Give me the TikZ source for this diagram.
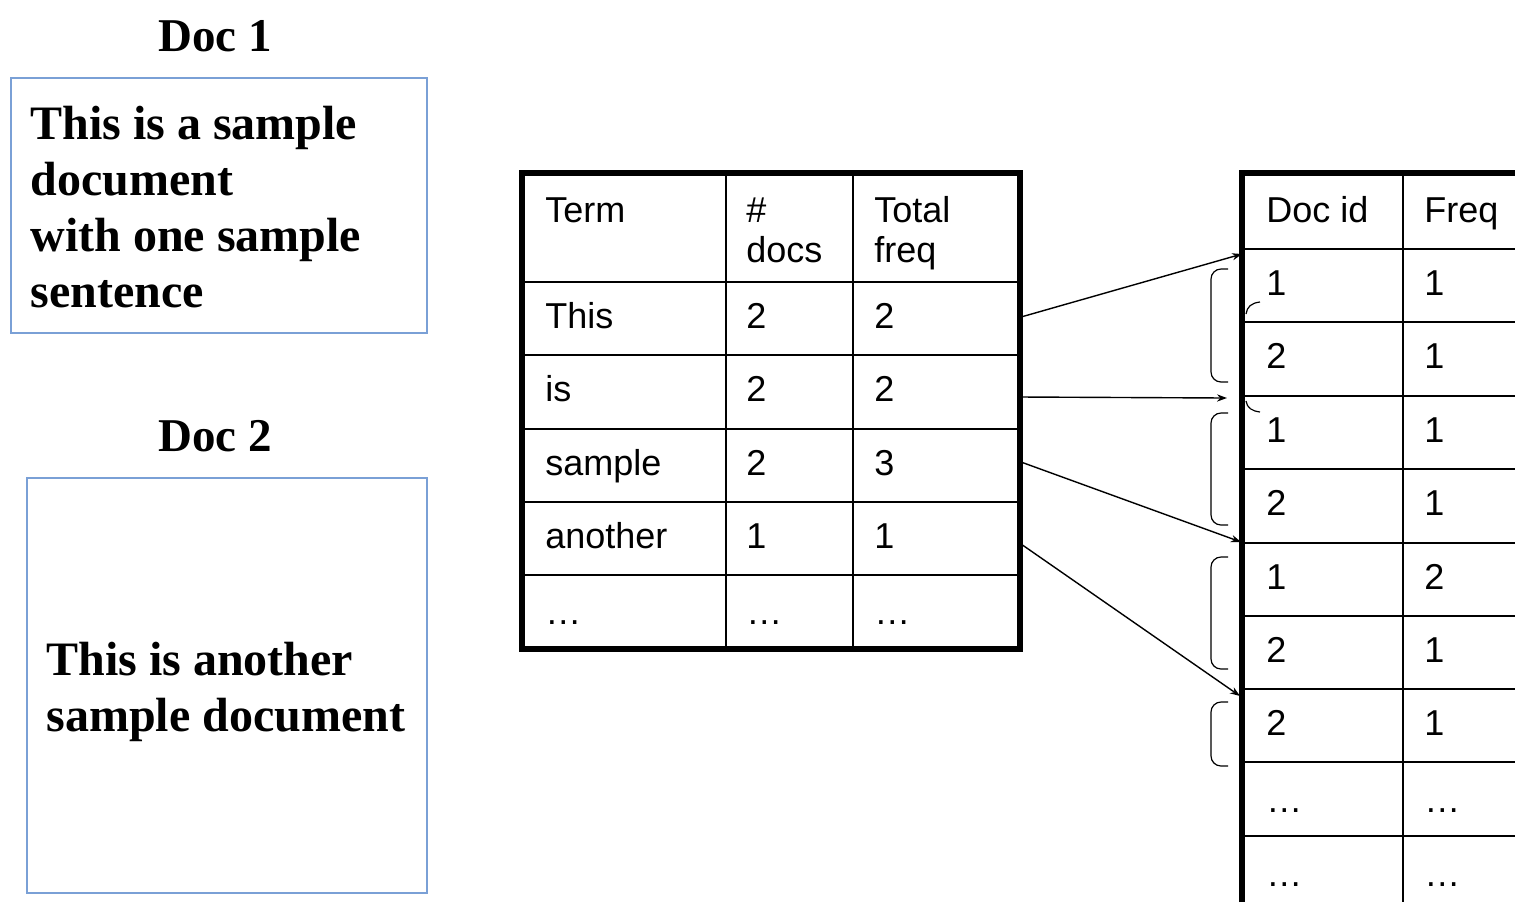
\documentclass[tikz,border=0pt]{standalone}
\usepackage{fontspec}
\setmainfont{Liberation Serif}
\newfontfamily\arialf{Liberation Sans}
\usetikzlibrary{arrows.meta}
\definecolor{boxblue}{RGB}{122,160,214}
\begin{document}
\begin{tikzpicture}[x=0.5pt,y=-0.5pt,
 doctext/.style={anchor=base west, inner sep=0, font=\fontsize{24}{28}\selectfont\bfseries},
 doctitle/.style={anchor=base, inner sep=0, font=\fontsize{23.5}{28}\selectfont\bfseries},
 cell/.style={anchor=base west, inner sep=0, font=\arialf\fontsize{18}{20}\selectfont},
 docbox/.style={draw=boxblue, line width=1pt},
 heavyline/.style={line width=2.6pt},
 gridline/.style={line width=1.3pt},
 link/.style={line width=0.7pt, -{Stealth[length=5pt,width=3.6pt]}},
 bracket/.style={line width=0.6pt, rounded corners=5pt}]
\useasboundingbox (0,0) rectangle (1515,902);

% Doc 1
\node[doctitle] (t1) at (215,51) {Doc 1};
\draw[docbox] (11,78) rectangle (427,333);
\node[doctext] (d1a) at (30,139) {This is a sample};
\node[doctext] (d1b) at (30,195) {document};
\node[doctext] (d1c) at (30,251) {with one sample};
\node[doctext] (d1d) at (30,307) {sentence};

% Doc 2
\node[doctitle] (t2) at (215,451) {Doc 2};
\draw[docbox] (27,478) rectangle (427,893);
\node[doctext] (d2a) at (46,675) {This is another};
\node[doctext] (d2b) at (46,731) {sample document};

% Table 1
\foreach \y in {282,355,429,502,575} \draw[gridline] (522,\y) -- (1020,\y);
\foreach \x in {726,853} \draw[gridline] (\x,173) -- (\x,649);
\draw[heavyline] (522,173) rectangle (1020,649);
\node[cell] (h1) at (545,222) {Term};
\node[cell] (h2a) at (746,222) {\#};
\node[cell] (h2b) at (746,262) {docs};
\node[cell] (h3a) at (874,222) {Total};
\node[cell] (h3b) at (874,262) {freq};
\node[cell] (r1a) at (545,328) {This};
\node[cell] (r1b) at (746,328) {2};
\node[cell] (r1c) at (874,328) {2};
\node[cell] (r2a) at (545,401) {is};
\node[cell] (r2b) at (746,401) {2};
\node[cell] (r2c) at (874,401) {2};
\node[cell] (r3a) at (545,475) {sample};
\node[cell] (r3b) at (746,475) {2};
\node[cell] (r3c) at (874,475) {3};
\node[cell] (r4a) at (545,548) {another};
\node[cell] (r4b) at (746,548) {1};
\node[cell] (r4c) at (874,548) {1};
\node[cell] (r5a) at (545,624) {…};
\node[cell] (r5b) at (746,624) {…};
\node[cell] (r5c) at (874,624) {…};

% Table 2
\foreach \y in {249,322,396,469,543,616,689,762,836} \draw[gridline] (1242,\y) -- (1515,\y);
\draw[gridline] (1403,173) -- (1403,902);
\draw[heavyline] (1242,902) -- (1242,173) -- (1520,173);
\node[cell] (p0a) at (1266,222) {Doc id};
\node[cell] (p0b) at (1424,222) {Freq};
\node[cell] (p1a) at (1266,295) {1};
\node[cell] (p1b) at (1424,295) {1};
\node[cell] (p2a) at (1266,368) {2};
\node[cell] (p2b) at (1424,368) {1};
\node[cell] (p3a) at (1266,442) {1};
\node[cell] (p3b) at (1424,442) {1};
\node[cell] (p4a) at (1266,515) {2};
\node[cell] (p4b) at (1424,515) {1};
\node[cell] (p5a) at (1266,589) {1};
\node[cell] (p5b) at (1424,589) {2};
\node[cell] (p6a) at (1266,662) {2};
\node[cell] (p6b) at (1424,662) {1};
\node[cell] (p7a) at (1266,735) {2};
\node[cell] (p7b) at (1424,735) {1};
\node[cell] (p8a) at (1266,812) {…};
\node[cell] (p8b) at (1424,812) {…};
\node[cell] (p9a) at (1266,886) {…};
\node[cell] (p9b) at (1424,886) {…};

% brackets
\draw[bracket] (1228,269) -- (1211,269) -- (1211,382) -- (1228,382);
\draw[bracket] (1228,413) -- (1211,413) -- (1211,525) -- (1228,525);
\draw[bracket] (1228,557) -- (1211,557) -- (1211,669) -- (1228,669);
\draw[bracket] (1228,702) -- (1211,702) -- (1211,766) -- (1228,766);
\draw[line width=0.6pt] (1260,302) .. controls (1251,303) and (1247,307) .. (1246,314);
\draw[line width=0.6pt] (1246,401) .. controls (1247,408) and (1252,411) .. (1260,412);

% connectors
\coordinate (s1) at (1021,317);
\coordinate (s2) at (1021,397);
\coordinate (s3) at (1021,462);
\coordinate (s4) at (1021,544);
\coordinate (e1) at (1242,254);
\coordinate (e2) at (1227,398);
\coordinate (e3) at (1241,542);
\coordinate (e4) at (1240,696);
\draw[link] (s1) -- (e1);
\draw[link] (s2) -- (e2);
\draw[link] (s3) -- (e3);
\draw[link] (s4) -- (e4);
\end{tikzpicture}
\end{document}
